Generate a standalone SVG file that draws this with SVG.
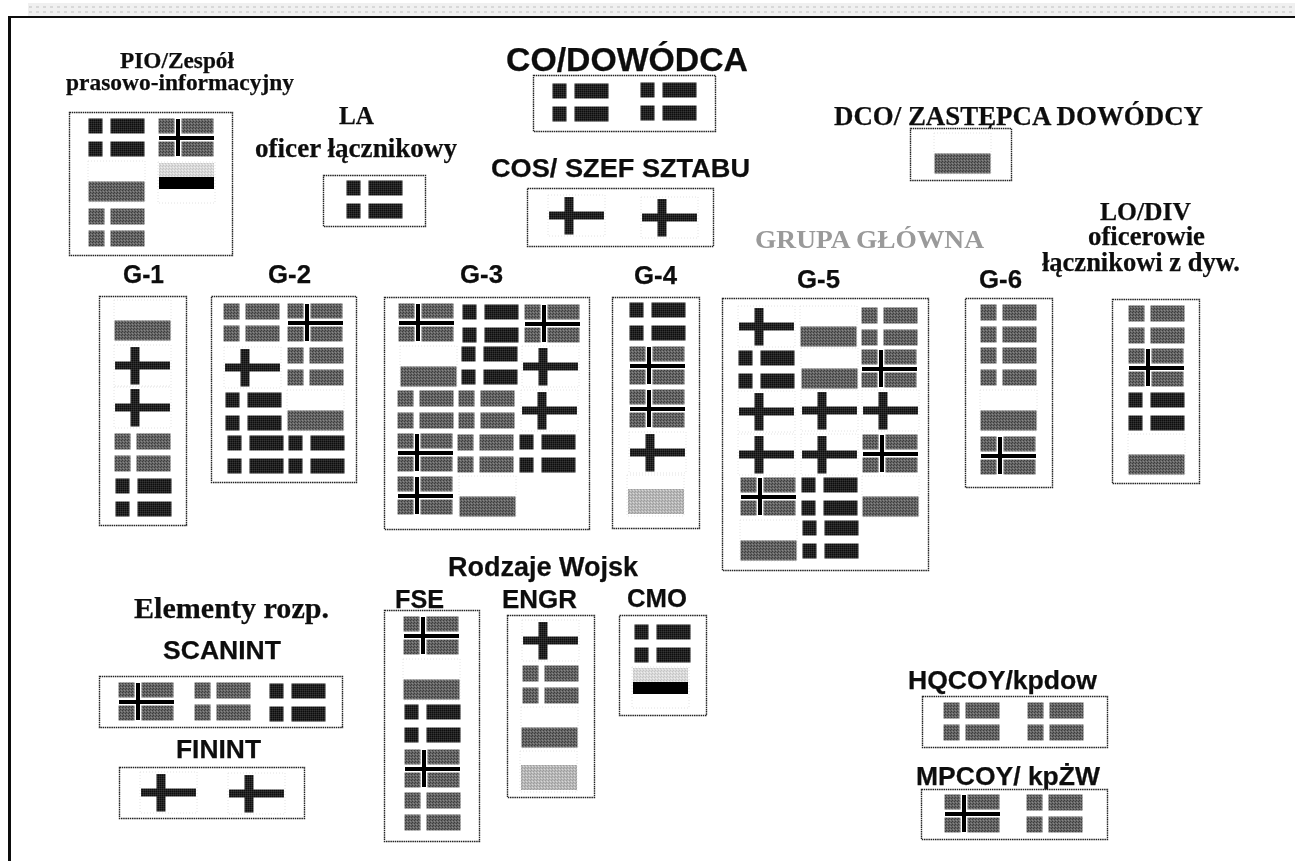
<svg xmlns="http://www.w3.org/2000/svg" width="1295" height="861" viewBox="0 0 1295 861">
<style>
text{font-weight:bold;fill:#111;stroke:#111;stroke-width:.25}
.s{font-family:"Liberation Sans",Arial,sans-serif}
.r{font-family:"Liberation Serif","Times New Roman",serif}
.box{fill:#fff;stroke:#222;stroke-width:1.4;stroke-dasharray:1.5 .7}
.cell{fill:none;stroke:#e2e2e2;stroke-width:1;stroke-dasharray:1 2}
.d{fill:url(#pd)}
.m{fill:url(#pm)}
.l{fill:url(#pl)}
.e{fill:url(#pe)}
.k{fill:#000}
</style>
<defs>
<filter id="scan" filterUnits="userSpaceOnUse" x="0" y="0" width="1295" height="861"><feGaussianBlur stdDeviation="0.45"/></filter>
<pattern id="pd" width="2" height="2" patternUnits="userSpaceOnUse"><rect width="2" height="2" fill="#202020"/><rect width="1" height="1" fill="#363636"/><rect x="1" y="1" width="1" height="1" fill="#101010"/></pattern>
<pattern id="pm" width="3" height="3" patternUnits="userSpaceOnUse"><rect width="3" height="3" fill="#666"/><rect width="1" height="1" fill="#3e3e3e"/><rect x="1" y="2" width="1" height="1" fill="#3e3e3e"/><rect x="2" y="1" width="1" height="1" fill="#888"/></pattern>
<pattern id="pl" width="3" height="3" patternUnits="userSpaceOnUse"><rect width="3" height="3" fill="#b8b8b8"/><rect width="1" height="1" fill="#9c9c9c"/><rect x="1" y="2" width="1" height="1" fill="#9c9c9c"/><rect x="2" y="1" width="1" height="1" fill="#d8d8d8"/></pattern>
<pattern id="pe" width="3" height="3" patternUnits="userSpaceOnUse"><rect width="3" height="3" fill="#dadada"/><rect width="1" height="1" fill="#c4c4c4"/><rect x="1" y="2" width="1" height="1" fill="#c4c4c4"/><rect x="2" y="1" width="1" height="1" fill="#eee"/></pattern>
<pattern id="pt" width="7" height="5" patternUnits="userSpaceOnUse"><rect width="7" height="5" fill="#f0f0f0"/><rect x="1" y="1" width="3" height="2" fill="#d8d8d8"/></pattern>
<g id="D"><rect class="d" x="-.5" y="-.5" width="14" height="15"/><rect class="d" x="21.500" y="-.5" width="34" height="15"/><rect class="d" x="-.5" y="22.500" width="14" height="15"/><rect class="d" x="21.500" y="22.500" width="34" height="15"/></g>
<g id="M"><rect class="m" x="-.5" y="-.5" width="16" height="16"/><rect class="m" x="21.500" y="-.5" width="34" height="16"/><rect class="m" x="-.5" y="21.500" width="16" height="16"/><rect class="m" x="21.500" y="21.500" width="34" height="16"/></g>
<g id="F"><rect class="m" x="-.5" y="-.5" width="16" height="15"/><rect class="m" x="22.500" y="-.5" width="32" height="15"/><rect class="m" x="-.5" y="22.500" width="16" height="15"/><rect class="m" x="22.500" y="22.500" width="32" height="15"/><rect class="k" x="17" y="0" width="4" height="37"/><rect class="k" y="17" width="55" height="4"/></g>
<g id="C"><rect class="cell" x="-1" y="-2" width="57" height="41"/><rect class="d" y="14.500" width="55" height="8"/><rect class="d" x="15.500" width="9" height="37.500"/></g>
<g id="B"><rect class="cell" x="-1" y="-2" width="57" height="41"/><rect class="m" x="-.5" y="18.500" width="56" height="20"/></g>
<g id="L"><rect class="cell" x="-1" y="-14" width="57" height="41"/><rect class="l" width="56" height="25"/></g>
<g id="H"><rect class="cell" x="-1" y="-1" width="57" height="41"/><rect class="e" width="55" height="14"/><rect class="k" y="14" width="55" height="12"/></g>
</defs>
<g filter="url(#scan)">
<rect width="1295" height="861" fill="#fff"/>
<g id="frame">
<rect x="28" y="3" width="1267" height="13" fill="url(#pt)"/>
<rect x="9" y="16" width="1286" height="2" fill="#111"/>
<rect x="8" y="16" width="3" height="845" fill="#111"/>
</g>
<g id="pio">
<text class="r" x="120" y="68" font-size="23" textLength="114" lengthAdjust="spacingAndGlyphs">PIO/Zespół</text>
<text class="r" x="66" y="90" font-size="23" textLength="228" lengthAdjust="spacingAndGlyphs">prasowo-informacyjny</text>
<rect class="box" x="69.500" y="112.500" width="163" height="143"/>
<use href="#D" x="89" y="119"/><use href="#F" x="159" y="119"/><use href="#B" x="89" y="163"/><use href="#H" x="159" y="163"/><use href="#M" x="89" y="209"/>
</g>
<g id="la">
<text class="r" x="339" y="124" font-size="26" textLength="35" lengthAdjust="spacingAndGlyphs">LA</text>
<text class="r" x="255" y="157" font-size="27" textLength="202" lengthAdjust="spacingAndGlyphs">oficer łącznikowy</text>
<rect class="box" x="323.500" y="175.500" width="102" height="51"/>
<use href="#D" x="347" y="181"/>
</g>
<g id="co">
<text class="s" x="506" y="71" font-size="33" textLength="242" lengthAdjust="spacingAndGlyphs">CO/DOWÓDCA</text>
<rect class="box" x="533.500" y="75.500" width="182" height="56"/>
<use href="#D" x="553" y="84"/><use href="#D" x="641" y="83"/>
</g>
<g id="cos">
<text class="s" x="491" y="177" font-size="26" textLength="259" lengthAdjust="spacingAndGlyphs">COS/ SZEF SZTABU</text>
<rect class="box" x="527.500" y="188.500" width="186" height="58"/>
<use href="#C" x="549" y="197"/><use href="#C" x="642" y="199"/>
</g>
<g id="dco">
<text class="r" x="834" y="125" font-size="27" textLength="369" lengthAdjust="spacingAndGlyphs">DCO/ ZASTĘPCA DOWÓDCY</text>
<rect class="box" x="910.500" y="128.500" width="101" height="52"/>
<use href="#B" x="935" y="135"/>
</g>
<g id="grupa">
<text class="r" x="755" y="248" font-size="26" textLength="229" lengthAdjust="spacingAndGlyphs" style="fill:#9a9a9a;stroke:none">GRUPA GŁÓWNA</text>
</g>
<g id="g1">
<text class="s" x="123" y="283" font-size="25" textLength="41" lengthAdjust="spacingAndGlyphs">G-1</text>
<rect class="box" x="99.500" y="296.500" width="87" height="229"/>
<use href="#B" x="115" y="302"/><use href="#C" x="115" y="347"/><use href="#C" x="115" y="389"/><use href="#M" x="115" y="434"/><use href="#D" x="116" y="479"/>
</g>
<g id="g2">
<text class="s" x="268" y="283" font-size="25" textLength="43" lengthAdjust="spacingAndGlyphs">G-2</text>
<rect class="box" x="211.500" y="296.500" width="145" height="186"/>
<use href="#M" x="224" y="304"/><use href="#F" x="288" y="304"/><use href="#C" x="225" y="349"/><use href="#M" x="288" y="348"/><use href="#D" x="226" y="393"/><use href="#B" x="288" y="392"/><use href="#D" x="228" y="436"/><use href="#D" x="289" y="436"/>
</g>
<g id="g3">
<text class="s" x="460" y="283" font-size="25" textLength="43" lengthAdjust="spacingAndGlyphs">G-3</text>
<rect class="box" x="384.500" y="297.500" width="205" height="232"/>
<use href="#F" x="399" y="304"/><use href="#D" x="463" y="305"/><use href="#F" x="525" y="305"/><use href="#B" x="401" y="348"/><use href="#D" x="462" y="347"/><use href="#C" x="523" y="348"/><use href="#M" x="398" y="391"/><use href="#M" x="459" y="391"/><use href="#C" x="522" y="392"/><use href="#F" x="398" y="434"/><use href="#M" x="458" y="435"/><use href="#D" x="520" y="435"/><use href="#F" x="398" y="477"/><use href="#B" x="460" y="478"/>
</g>
<g id="g4">
<text class="s" x="634" y="284" font-size="25" textLength="43" lengthAdjust="spacingAndGlyphs">G-4</text>
<rect class="box" x="612.500" y="297.500" width="87" height="231"/>
<use href="#D" x="630" y="303"/><use href="#F" x="630" y="347"/><use href="#F" x="630" y="390"/><use href="#C" x="630" y="434"/><use href="#L" x="628" y="489"/>
</g>
<g id="g5">
<text class="s" x="797" y="288" font-size="25" textLength="43" lengthAdjust="spacingAndGlyphs">G-5</text>
<rect class="box" x="722.500" y="298.500" width="206" height="272"/>
<use href="#C" x="739" y="308"/><use href="#B" x="801" y="308"/><use href="#M" x="862" y="308"/><use href="#D" x="739" y="351"/><use href="#B" x="802" y="350"/><use href="#F" x="862" y="350"/><use href="#C" x="739" y="393"/><use href="#C" x="802" y="392"/><use href="#C" x="863" y="392"/><use href="#C" x="739" y="436"/><use href="#C" x="802" y="436"/><use href="#F" x="863" y="435"/><use href="#F" x="741" y="478"/><use href="#D" x="802" y="478"/><use href="#B" x="863" y="478"/><use href="#B" x="741" y="522"/><use href="#D" x="803" y="521"/>
</g>
<g id="g6">
<text class="s" x="979" y="288" font-size="25" textLength="43" lengthAdjust="spacingAndGlyphs">G-6</text>
<rect class="box" x="965.500" y="298.500" width="87" height="189"/>
<use href="#M" x="981" y="305"/><use href="#M" x="981" y="348"/><use href="#B" x="981" y="392"/><use href="#F" x="981" y="437"/>
</g>
<g id="lodiv">
<text class="r" x="1100" y="220" font-size="26" textLength="91" lengthAdjust="spacingAndGlyphs">LO/DIV</text>
<text class="r" x="1088" y="245" font-size="27" textLength="117" lengthAdjust="spacingAndGlyphs">oficerowie</text>
<text class="r" x="1042" y="271" font-size="27" textLength="198" lengthAdjust="spacingAndGlyphs">łącznikowi z dyw.</text>
<rect class="box" x="1112.500" y="299.500" width="87" height="184"/>
<use href="#M" x="1129" y="306"/><use href="#F" x="1129" y="349"/><use href="#D" x="1129" y="393"/><use href="#B" x="1129" y="436"/>
</g>
<g id="rodzaje">
<text class="s" x="448" y="576" font-size="27" textLength="190" lengthAdjust="spacingAndGlyphs">Rodzaje Wojsk</text>
</g>
<g id="fse">
<rect class="box" x="384.500" y="610.500" width="95" height="231"/>
<text class="s" x="395" y="608" font-size="25" textLength="49" lengthAdjust="spacingAndGlyphs">FSE</text>
<use href="#F" x="404" y="617"/><use href="#B" x="404" y="661"/><use href="#D" x="405" y="705"/><use href="#F" x="405" y="750"/><use href="#M" x="405" y="793"/>
</g>
<g id="engr">
<text class="s" x="502" y="608" font-size="26" textLength="75" lengthAdjust="spacingAndGlyphs">ENGR</text>
<rect class="box" x="507.500" y="615.500" width="87" height="182"/>
<use href="#C" x="523" y="622"/><use href="#M" x="523" y="666"/><use href="#B" x="522" y="709"/><use href="#L" x="521" y="765"/>
</g>
<g id="cmo">
<text class="s" x="627" y="607" font-size="26" textLength="60" lengthAdjust="spacingAndGlyphs">CMO</text>
<rect class="box" x="619.500" y="615.500" width="87" height="100"/>
<use href="#D" x="635" y="625"/><use href="#H" x="633" y="668"/>
</g>
<g id="elementy">
<text class="r" x="134" y="618" font-size="29" textLength="195" lengthAdjust="spacingAndGlyphs">Elementy rozp.</text>
</g>
<g id="scanint">
<text class="s" x="163" y="659" font-size="26" textLength="118" lengthAdjust="spacingAndGlyphs">SCANINT</text>
<rect class="box" x="99.500" y="676.500" width="243" height="51"/>
<use href="#F" x="119" y="683"/><use href="#M" x="195" y="683"/><use href="#D" x="270" y="684"/>
</g>
<g id="finint">
<text class="s" x="176" y="758" font-size="26" textLength="85" lengthAdjust="spacingAndGlyphs">FININT</text>
<rect class="box" x="119.500" y="767.500" width="185" height="51"/>
<use href="#C" x="141" y="774"/><use href="#C" x="229" y="775"/>
</g>
<g id="hqcoy">
<text class="s" x="908" y="689" font-size="26" textLength="189" lengthAdjust="spacingAndGlyphs">HQCOY/kpdow</text>
<rect class="box" x="922.500" y="696.500" width="185" height="51"/>
<use href="#M" x="944" y="703"/><use href="#M" x="1028" y="703"/>
</g>
<g id="mpcoy">
<text class="s" x="916" y="785" font-size="26" textLength="184" lengthAdjust="spacingAndGlyphs">MPCOY/ kpŻW</text>
<rect class="box" x="921.500" y="789.500" width="186" height="50"/>
<use href="#F" x="945" y="795"/><use href="#M" x="1027" y="795"/>
</g>
</g>
</svg>
